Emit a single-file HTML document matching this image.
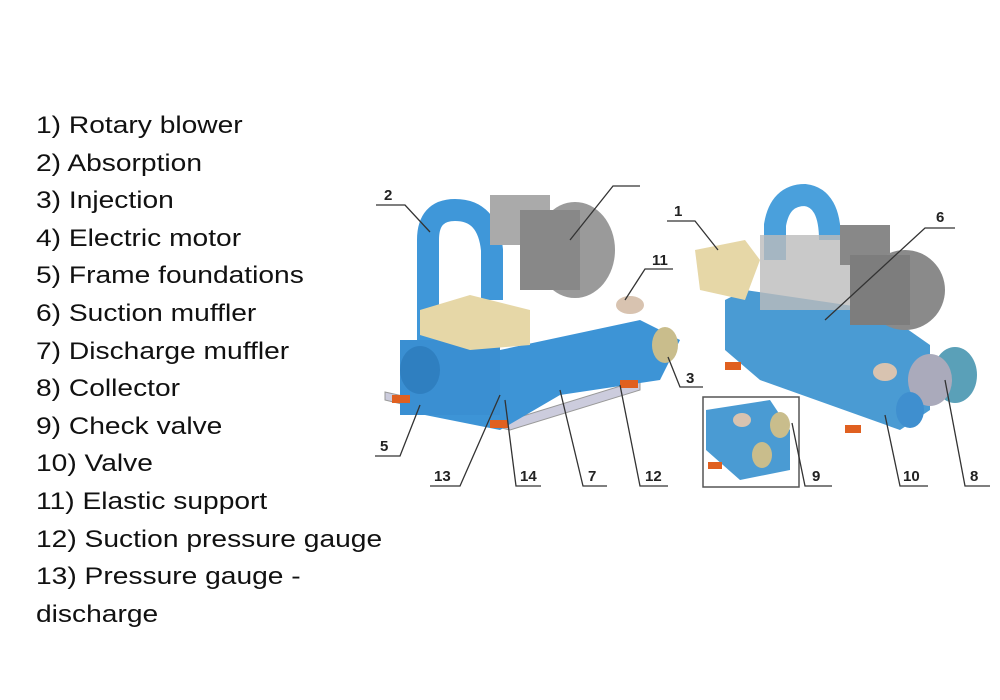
<!DOCTYPE html>
<html><head><meta charset="utf-8"><style>
html,body{margin:0;padding:0;background:#fff;width:1000px;height:700px;overflow:hidden}
.list{position:absolute;left:36px;top:107px;font-family:"Liberation Sans",sans-serif;font-size:24.5px;line-height:37.6px;color:#111;white-space:nowrap;transform:scaleX(1.15);transform-origin:0 0}
svg{position:absolute;left:0;top:0}
.l{font-family:"Liberation Sans",sans-serif;font-size:15px;font-weight:bold;fill:#222}
</style></head><body>
<div class="list">1) Rotary blower<br>2) Absorption<br>3) Injection<br>4) Electric motor<br>5) Frame foundations<br>6) Suction muffler<br>7) Discharge muffler<br>8) Collector<br>9) Check valve<br>10) Valve<br>11) Elastic support<br>12) Suction pressure gauge<br>13) Pressure gauge -<br>discharge</div>
<svg width="1000" height="700" viewBox="0 0 1000 700">
<g>
<polygon points="385,400 510,430 640,390 640,380 510,420 385,392" fill="#ccd" stroke="#999"/>
<path d="M428,340 L428,240 Q428,210 455,210 Q488,210 492,250 L492,300" fill="none" stroke="#3f97d9" stroke-width="22"/>
<rect x="490" y="195" width="60" height="50" fill="#aaa"/>
<ellipse cx="575" cy="250" rx="40" ry="48" fill="#9a9a9a"/>
<rect x="520" y="210" width="60" height="80" fill="#888"/>
<polygon points="400,345 500,350 640,320 680,340 660,380 560,395 500,430 400,410" fill="#3d94d6"/>
<rect x="400" y="340" width="100" height="75" fill="#3a8fd2"/>
<ellipse cx="420" cy="370" rx="20" ry="24" fill="#2f7fc0"/>
<polygon points="420,310 470,295 530,310 530,345 470,350 420,335" fill="#e6d7a7"/>
<ellipse cx="665" cy="345" rx="13" ry="18" fill="#c9bd8c"/>
<ellipse cx="630" cy="305" rx="14" ry="9" fill="#d8c3b0"/>
<rect x="392" y="395" width="18" height="8" fill="#e06020"/>
<rect x="490" y="420" width="18" height="8" fill="#e06020"/>
<rect x="620" y="380" width="18" height="8" fill="#e06020"/>
<path d="M775,260 L775,225 Q780,195 805,195 Q830,198 830,240" fill="none" stroke="#4aa0dc" stroke-width="22"/>
<polygon points="725,300 745,290 880,310 930,345 930,410 900,430 760,380 725,350" fill="#4a9bd3"/>
<rect x="760" y="235" width="90" height="75" fill="#bbb" opacity=".8"/>
<rect x="840" y="225" width="50" height="40" fill="#888"/>
<ellipse cx="905" cy="290" rx="40" ry="40" fill="#8a8a8a"/>
<rect x="850" y="255" width="60" height="70" fill="#7d7d7d"/>
<polygon points="695,250 745,240 760,260 745,300 700,290" fill="#e6d7a7"/>
<ellipse cx="955" cy="375" rx="22" ry="28" fill="#5aa0b8"/>
<ellipse cx="930" cy="380" rx="22" ry="26" fill="#aab"/>
<ellipse cx="910" cy="410" rx="14" ry="18" fill="#3f8fcf"/>
<ellipse cx="885" cy="372" rx="12" ry="9" fill="#d8c3b0"/>
<rect x="725" y="362" width="16" height="8" fill="#e06020"/>
<rect x="845" y="425" width="16" height="8" fill="#e06020"/>
<rect x="703" y="397" width="96" height="90" fill="#fff" stroke="#555" stroke-width="1.5"/>
<polygon points="706,410 770,400 790,430 790,470 740,480 706,450" fill="#4a9bd3"/>
<ellipse cx="780" cy="425" rx="10" ry="13" fill="#c9bd8c"/>
<ellipse cx="762" cy="455" rx="10" ry="13" fill="#c9bd8c"/>
<ellipse cx="742" cy="420" rx="9" ry="7" fill="#d8c3b0"/>
<rect x="708" y="462" width="14" height="7" fill="#e06020"/>
</g>
<g stroke="#333" stroke-width="1.3" fill="none">
<polyline points="376,205 405,205 430,232"/>
<polyline points="640,186 613,186 570,240"/>
<polyline points="667,221 695,221 718,250"/>
<polyline points="955,228 925,228 825,320"/>
<polyline points="673,269 645,269 625,300"/>
<polyline points="703,387 680,387 668,357"/>
<polyline points="375,456 400,456 420,405"/>
<polyline points="430,486 460,486 500,395"/>
<polyline points="541,486 516,486 505,400"/>
<polyline points="607,486 583,486 560,390"/>
<polyline points="668,486 640,486 620,385"/>
<polyline points="832,486 805,486 792,423"/>
<polyline points="928,486 900,486 885,415"/>
<polyline points="990,486 965,486 945,380"/>
</g>
<g class="l">
<text x="384" y="200">2</text><text x="674" y="216">1</text><text x="936" y="222">6</text>
<text x="652" y="265">11</text><text x="686" y="383">3</text><text x="380" y="451">5</text>
<text x="434" y="481">13</text><text x="520" y="481">14</text><text x="588" y="481">7</text>
<text x="645" y="481">12</text><text x="812" y="481">9</text><text x="903" y="481">10</text><text x="970" y="481">8</text>
</g>
</svg>
</body></html>
